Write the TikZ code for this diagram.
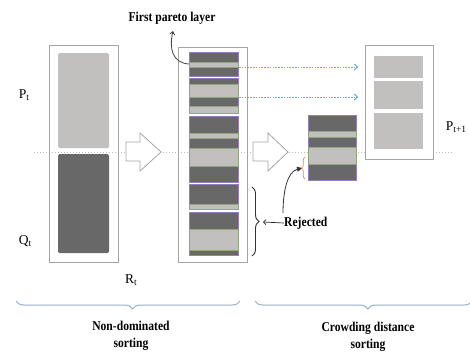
\documentclass[tikz,border=0pt]{standalone}
\usepackage{fontspec}
\setmainfont{Liberation Serif}
\newfontfamily\lblfont[FakeStretch=0.86]{Liberation Serif}
\usetikzlibrary{arrows.meta,decorations.pathreplacing}
\definecolor{darkband}{RGB}{104,104,104}
\definecolor{lightband}{RGB}{194,192,190}
\definecolor{purpleedge}{RGB}{150,125,190}
\definecolor{greenedge}{RGB}{145,165,125}
\definecolor{boxedge}{RGB}{165,165,165}
\definecolor{dotline}{RGB}{185,185,185}
\definecolor{bluearrow}{RGB}{110,165,220}
\definecolor{bracecol}{RGB}{150,175,205}
\definecolor{orangebrace}{RGB}{200,150,100}
\tikzset{
  outerbox/.style={draw=boxedge, line width=0.9pt},
  darkblk/.style={fill=darkband, draw=purpleedge, line width=0.45pt},
  lightblk/.style={fill=lightband, draw=greenedge, line width=0.5pt},
  plainlight/.style={fill=lightband},
  hollowarrow/.style={draw=boxedge, fill=white, line width=0.8pt, line join=miter},
  bluedot/.style={draw=bluearrow, line width=0.9pt, dash pattern=on 1.6pt off 1.2pt, -{Straight Barb[length=3pt,width=6pt]}},
  lbl/.style={font=\fontsize{13.5}{13.5}\selectfont, inner sep=0pt},
  boldlbl/.style={font=\lblfont\bfseries\fontsize{13.5}{14}\selectfont, inner sep=0pt, align=center}
}
\newcommand{\subtxt}[1]{\raisebox{-0.3ex}{\fontsize{9.5}{9.5}\selectfont #1}}
\begin{document}
\begin{tikzpicture}[x=1pt,y=-1pt]
\useasboundingbox (0,0) rectangle (470,354);
% dotted middle line
\draw[dotline, line width=0.9pt, dash pattern=on 1pt off 2pt] (34,152) -- (453,152);

% left column R_t
\draw[outerbox] (49,45) rectangle (118,262);
\fill[plainlight, rounded corners=1.5pt] (58,53) rectangle (109,148);
\fill[darkband, rounded corners=1.5pt] (58,154) rectangle (109,253);
\node[lbl] (pt) at (24,95) {P\subtxt{t}};
\node[lbl] (qt) at (25,241) {Q\subtxt{t}};
\node[lbl] (rt) at (131,280) {R\subtxt{t}};

% hollow arrow 1
\draw[hollowarrow] (126,142) -- (140,142) -- (140,133) -- (161,152) -- (140,171) -- (140,161) -- (126,161) -- cycle;

% middle column
\draw[outerbox] (178,47) rectangle (247,262);
% block 1
\draw[darkblk] (189,52) rectangle (238,76);
\draw[lightblk] (189,62) rectangle (238,67);
% block 2
\draw[darkblk] (189,78) rectangle (238,113);
\draw[lightblk] (189,84) rectangle (238,97);
\draw[lightblk] (189,106) rectangle (238,113);
% block 3
\draw[darkblk] (189,116) rectangle (238,182);
\draw[lightblk] (189,133) rectangle (238,138);
\draw[lightblk] (189,148) rectangle (238,166);
% block 4
\draw[darkblk] (189,184) rectangle (238,209);
\draw[lightblk] (189,204) rectangle (238,209);
% block 5
\draw[darkblk] (189,212) rectangle (238,255);
\draw[lightblk] (189,229) rectangle (238,250);

% first pareto layer
\node[boldlbl] (fpl) at (172,18) {First pareto layer};
\coordinate (fplstart) at (189,64);
\coordinate (fplend) at (173,31);
\draw[line width=0.8pt, draw=black!75, -{Straight Barb[length=3pt,width=5pt]}] (fplstart) .. controls (172,63) and (169,48) .. (fplend);

% blue dotted arrows
\coordinate (b1s) at (239,67);
\coordinate (b1e) at (358,67);
\coordinate (b2s) at (239,97);
\coordinate (b2e) at (358,97);
\draw[bluedot] (b1s) -- (b1e);
\draw[bluedot] (b2s) -- (b2e);

% hollow arrow 2
\draw[hollowarrow] (253,142) -- (268,142) -- (268,133) -- (288,152) -- (268,171) -- (268,161) -- (253,161) -- cycle;

% crowding block
\draw[darkblk] (308,115) rectangle (356,180);
\draw[lightblk] (308,131) rectangle (356,137);
\draw[lightblk] (308,147) rectangle (356,164);
\coordinate (ob1) at (305,179);
\coordinate (ob2) at (305,157);
\draw[orangebrace, line width=0.7pt, decorate, decoration={brace, amplitude=3.5pt}] (ob1) -- (ob2);

% right box P_{t+1}
\draw[outerbox, fill=white] (365,45) rectangle (433,159);
\fill[plainlight] (374,56) rectangle (423,78);
\fill[plainlight] (374,81) rectangle (423,109);
\fill[plainlight] (374,113) rectangle (423,149);
\node[lbl] (pt1) at (456,127) {P\subtxt{t+1}};

% rejected
\coordinate (rb1) at (252,187);
\coordinate (rb2) at (252,256);
\draw[black!80, line width=0.9pt, decorate, decoration={brace, amplitude=7pt}] (rb1) -- (rb2);
\node[boldlbl, anchor=west] (rej) at (284,223) {Rejected};
\draw[black!85, line width=0.7pt, -{Straight Barb[length=2.5pt,width=5pt]}] (rej.west) -- (263,222);
\coordinate (rarrow) at (302,168);
\draw[black!80, line width=0.8pt, -{Triangle[length=5pt,width=5pt]}] (283,213) .. controls (283,192) and (287,172) .. (rarrow);

% bottom braces
\coordinate (lb1) at (16,301);
\coordinate (lb2) at (240,301);
\coordinate (rbb1) at (255,301);
\coordinate (rbb2) at (472,301);
\draw[bracecol, line width=1pt, decorate, decoration={brace, mirror, amplitude=8pt, aspect=0.52}] (lb1) -- (lb2);
\draw[bracecol, line width=1pt, decorate, decoration={brace, mirror, amplitude=8pt, aspect=0.52}] (rbb1) -- (rbb2);
\node[boldlbl] (nds) at (131,336) {Non-dominated\\[3pt]sorting};
\node[boldlbl] (cds) at (368,337) {Crowding distance\\[3pt]sorting};
\end{tikzpicture}
\end{document}
